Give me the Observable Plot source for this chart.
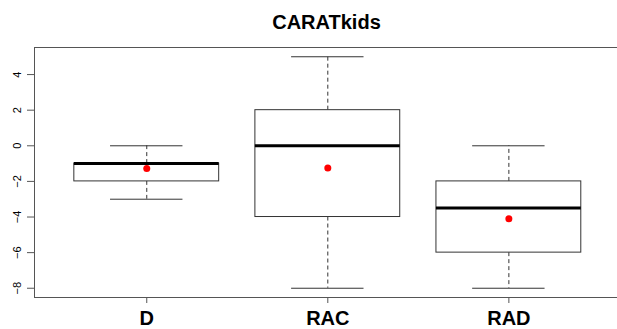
<!DOCTYPE html>
<html>
<head>
<meta charset="utf-8">
<script src="https://cdn.jsdelivr.net/npm/d3@7"></script>
<script src="https://cdn.jsdelivr.net/npm/@observablehq/plot@0.6"></script>
<style>
  html, body { margin: 0; padding: 0; background: #fff; }
  #title { font-family: "Liberation Sans", Arial, sans-serif; font-weight: bold; font-size: 20px;
           height: 40px; line-height: 20px; box-sizing: border-box; padding-top: 12px; padding-left: 36px;
           text-align: center; color: #000; width: 617px; }
  #chart svg { display: block; }
</style>
</head>
<body>
<div id="title">CARATkids</div>
<div id="chart"></div>
<script>
const categories = ["D", "RAC", "RAD"];
const whiskerLow = [-3, -8, -8];
const q1 = [-2, -4, -6];
const median = [-1, 0, -3.5];
const q3 = [-1, 2, -2];
const whiskerHigh = [0, 5, 0];
const means = [-1.28, -1.25, -4.1];
const yTicks = [-8, -6, -4, -2, 0, 2, 4];

const data = categories.map((c, i) => ({
  name: c, pos: i + 1, lo: whiskerLow[i], q1: q1[i], med: median[i], q3: q3[i], hi: whiskerHigh[i], mean: means[i]
}));

const yMin = -8.52, yMax = 5.52;
const xMin = 0.38, xMax = 3.60;
const boxHalf = 0.4, capHalf = 0.2;

const chart = Plot.plot({
  width: 617,
  height: 289,
  marginTop: 7,
  marginBottom: 32,
  marginLeft: 34,
  marginRight: 0,
  style: { fontFamily: "'Liberation Sans', Arial, sans-serif", color: "#000", background: "#fff" },
  x: { type: "linear", domain: [xMin, xMax] },
  y: { domain: [yMin, yMax] },
  marks: [
    // whiskers (dashed)
    Plot.ruleX(data, { x: "pos", y1: "q3", y2: "hi", stroke: "#333", strokeDasharray: "4,3", strokeWidth: 1 }),
    Plot.ruleX(data, { x: "pos", y1: "q1", y2: "lo", stroke: "#333", strokeDasharray: "4,3", strokeWidth: 1 }),
    // caps
    Plot.ruleY(data, { y: "hi", x1: d => d.pos - capHalf, x2: d => d.pos + capHalf, stroke: "#333", strokeWidth: 1 }),
    Plot.ruleY(data, { y: "lo", x1: d => d.pos - capHalf, x2: d => d.pos + capHalf, stroke: "#333", strokeWidth: 1 }),
    // boxes
    Plot.rect(data, { x1: d => d.pos - boxHalf, x2: d => d.pos + boxHalf, y1: "q1", y2: "q3", fill: "#fff", stroke: "#333", strokeWidth: 1 }),
    // medians
    Plot.ruleY(data, { y: "med", x1: d => d.pos - boxHalf, x2: d => d.pos + boxHalf, stroke: "#000", strokeWidth: 3 }),
    // means
    Plot.dot(data, { x: "pos", y: "mean", fill: "red", r: 3.5 }),
    // frame (left, top, bottom)
    Plot.ruleX([xMin], { stroke: "#555", strokeWidth: 1 }),
    Plot.ruleY([yMin, yMax], { stroke: "#555", strokeWidth: 1 }),
    // axes
    Plot.axisY({ ticks: yTicks, tickSize: 7, tickRotate: -90, tickPadding: 7, fontSize: 11, label: null, stroke: "#555" }),
    Plot.axisX({ ticks: [1, 2, 3], tickFormat: d => categories[d - 1], tickSize: 6, tickPadding: 7, fontSize: 20, fontWeight: "bold", label: null, stroke: "#555" })
  ]
});
document.getElementById("chart").appendChild(chart);
</script>
</body>
</html>
